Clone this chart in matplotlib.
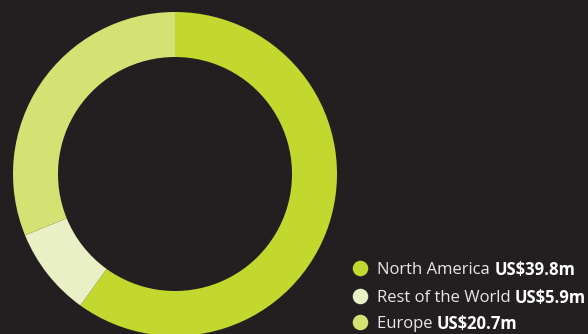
import matplotlib
matplotlib.use('Agg')
import matplotlib.pyplot as plt

regions = ['North America', 'Rest of the World', 'Europe']
values = [39.8, 5.9, 20.7]
labels = ['US$39.8m', 'US$5.9m', 'US$20.7m']
colors = ['#c2d82e', '#eaf0c6', '#d4e173']
bg = '#231f20'

fig = plt.figure(figsize=(5.88, 3.34), dpi=100, facecolor=bg)
ax = fig.add_axes([0, 0, 1, 1])
ax.set_facecolor(bg)

ax.pie(values, colors=colors, startangle=90, counterclock=False,
       center=(175, 160), radius=162, frame=True,
       wedgeprops=dict(width=45, linewidth=0))
ax.set_xlim(0, 588)
ax.set_ylim(0, 334)
ax.axis('off')

fig.canvas.draw()
r = fig.canvas.get_renderer()
ys = [66, 38, 12]
for name, lab, c, y in zip(regions, labels, colors, ys):
    ax.scatter([360], [y], s=125, color=c, linewidths=0, zorder=3)
    t = ax.text(377, y, name + ' ', fontsize=12, color='#e8e8e8',
                family='Open Sans', va='center_baseline')
    bb = t.get_window_extent(renderer=r)
    ax.text(bb.x1, y, lab, fontsize=12, color='white', weight='bold',
            family='Open Sans', va='center_baseline')

fig.savefig('out.png', dpi=100, facecolor=bg)
